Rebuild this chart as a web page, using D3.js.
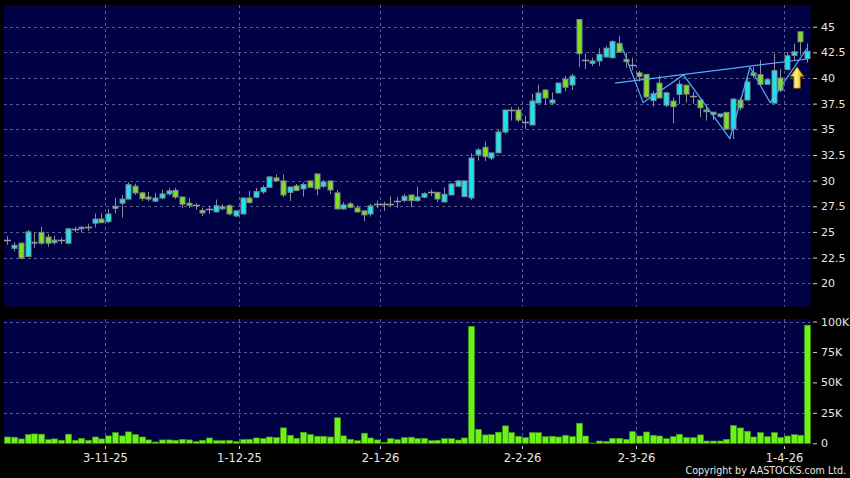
<!DOCTYPE html>
<html lang="en">
<head>
    <meta charset="UTF-8">
    <title>Candlestick chart</title>
    <script src="https://d3js.org/d3.v7.min.js"></script>
    <style>
        html, body {
            margin: 0;
            padding: 0;
            background: #000;
        }
        svg text {
            font-family: "DejaVu Sans", Verdana, sans-serif;
            fill: #e6e6e6;
        }
        .grid line {
            stroke: #5b5b8e;
            stroke-width: 1;
            stroke-dasharray: 3,3;
        }
        .axis path {
            display: none;
        }
        .axis line {
            stroke: #cfcfcf;
        }
    </style>
</head>
<body>
<div id="chart"></div>

<script>

    // daily candles, oldest first (open, high, low, close)
    var opens = [24.2, 23.4, 23.9, 22.6, 24.0, 24.95, 24.5, 23.95, 24.2, 23.9,
        25.3, 25.3, 25.45, 25.85, 26.25, 26.0, 27.3, 27.8, 28.2, 29.45,
        28.8, 28.4, 28.0, 28.3, 28.7, 29.05, 28.4, 27.8, 27.65, 27.1,
        27.25, 26.95, 27.25, 27.55, 26.55, 26.75, 28.3, 28.38, 28.9, 29.35,
        30.26, 29.97, 28.86, 29.48, 29.19, 29.97, 30.65, 29.45, 29.97, 28.8,
        27.24, 27.73, 27.34, 27.05, 26.75, 27.73, 27.73, 27.73, 27.99, 28.05,
        28.6, 28.05, 28.38, 28.9, 28.85, 27.92, 28.6, 29.45, 28.44, 28.31,
        32.5, 33.25, 32.2, 32.7, 34.74, 36.88, 36.88, 35.75, 35.42, 37.56,
        38.83, 37.56, 38.54, 39.9, 39.32, 45.7, 41.8, 41.43, 41.66, 42.05,
        41.98, 43.38, 41.82, 41.27, 40.5, 40.36, 37.8, 39.5, 37.35, 37.75,
        38.4, 39.3, 38.22, 37.85, 36.88, 36.67, 36.24, 36.65, 35.02, 37.85,
        37.85, 40.5, 40.33, 39.38, 37.55, 40.0, 40.82, 42.2, 44.5, 41.9];

    var highs = [24.6, 24.0, 24.0, 25.2, 25.0, 25.5, 24.8, 24.6, 24.45, 25.4,
        25.5, 25.6, 25.8, 26.8, 26.8, 27.25, 28.3, 28.6, 29.85, 29.7,
        28.9, 28.9, 28.8, 29.1, 29.3, 29.3, 28.45, 28.3, 27.8, 27.35,
        27.55, 28.15, 27.7, 27.7, 27.1, 28.35, 29.0, 29.3, 29.55, 30.4,
        30.6, 30.6, 29.38, 29.67, 29.84, 29.97, 30.65, 30.06, 29.97, 29.1,
        27.9, 27.9, 27.6, 27.05, 27.73, 28.05, 27.95, 28.45, 28.4, 28.7,
        28.6, 29.42, 28.86, 29.15, 28.9, 29.35, 29.77, 30.06, 29.97, 32.66,
        33.18, 33.8, 32.7, 34.97, 36.88, 37.15, 37.15, 36.33, 38.44, 39.35,
        38.93, 38.6, 39.51, 40.2, 40.4, 45.7, 42.37, 41.98, 42.9, 43.1,
        43.68, 44.1, 42.47, 41.98, 40.7, 40.36, 38.7, 40.26, 38.6, 38.1,
        39.77, 39.3, 38.63, 37.85, 37.32, 36.67, 36.5, 36.65, 37.97, 38.1,
        40.2, 41.08, 41.74, 39.84, 42.35, 40.9, 42.5, 43.37, 44.5, 43.37];

    var lows = [23.75, 23.1, 22.3, 22.6, 23.4, 23.75, 23.55, 23.75, 23.8, 23.8,
        25.0, 24.95, 25.1, 25.45, 25.85, 25.85, 26.8, 26.4, 28.2, 28.6,
        28.0, 28.0, 27.9, 28.2, 28.55, 28.2, 27.35, 27.35, 27.15, 26.55,
        26.75, 26.9, 27.1, 26.6, 26.45, 26.7, 27.73, 28.3, 28.7, 29.35,
        29.9, 28.38, 28.0, 28.97, 28.44, 29.35, 28.57, 29.3, 28.7, 27.17,
        27.17, 27.3, 26.85, 26.04, 26.5, 27.34, 27.05, 27.4, 27.3, 27.9,
        27.4, 27.9, 28.28, 28.5, 27.9, 27.85, 28.6, 29.38, 28.44, 28.1,
        31.95, 31.9, 32.0, 32.7, 34.55, 35.85, 35.7, 35.03, 35.42, 37.56,
        37.37, 37.37, 38.54, 38.7, 38.83, 41.07, 40.85, 41.17, 41.17, 41.98,
        41.9, 42.47, 41.0, 40.75, 39.65, 38.0, 37.2, 38.05, 37.16, 35.6,
        37.48, 37.6, 37.48, 36.18, 35.85, 35.9, 36.1, 35.0, 34.05, 36.85,
        37.85, 40.0, 39.38, 39.38, 37.55, 38.6, 40.82, 41.7, 42.2, 41.5];

    var closes = [24.2, 23.7, 22.45, 25.0, 23.9, 23.9, 23.9, 24.2, 24.2, 25.3,
        25.3, 25.45, 25.45, 26.25, 25.9, 26.75, 27.5, 28.2, 29.6, 28.8,
        28.25, 28.2, 28.3, 28.7, 29.0, 28.4, 27.7, 27.6, 27.65, 26.85,
        27.25, 27.55, 27.45, 26.75, 27.05, 28.3, 27.86, 28.93, 29.32, 30.36,
        29.97, 28.6, 29.38, 29.03, 29.61, 29.35, 29.19, 29.87, 29.09, 27.24,
        27.63, 27.4, 26.95, 26.66, 27.53, 27.73, 27.73, 27.73, 27.99, 28.47,
        28.05, 28.41, 28.73, 28.9, 28.21, 28.67, 29.67, 29.97, 29.97, 32.2,
        32.99, 32.34, 32.7, 34.74, 36.88, 36.88, 35.9, 35.75, 37.76, 38.54,
        38.05, 37.86, 39.51, 39.1, 40.19, 42.37, 41.8, 41.66, 42.3, 42.9,
        43.54, 42.53, 41.6, 41.27, 40.16, 38.15, 38.46, 38.05, 38.56, 37.2,
        39.4, 38.43, 38.22, 37.1, 36.72, 36.44, 36.5, 35.02, 37.95, 37.1,
        39.62, 40.26, 39.38, 39.84, 40.72, 38.8, 42.16, 42.55, 43.53, 42.6];

    // daily volume, in shares
    var volumes = [5200, 5000, 3600, 7200, 7700, 7500, 3000, 3600, 2500, 7500,
        2500, 4100, 2500, 5200, 3600, 6100, 8800, 6100, 9400, 7200,
        5200, 2800, 1100, 2800, 2800, 2500, 3300, 2800, 1400, 2500,
        4400, 2200, 2200, 2500, 1400, 3000, 3300, 4400, 3900, 5200,
        4700, 12700, 6600, 4100, 9100, 7200, 5800, 5800, 5200, 21000,
        6100, 3300, 2200, 8300, 4400, 2800, 800, 3900, 3000, 4700,
        5000, 3900, 4100, 2200, 2500, 3800, 3800, 2700, 4400, 96000,
        11500, 6900, 7100, 9100, 14300, 8800, 5800, 4700, 8800, 8800,
        5500, 5800, 5200, 6600, 5500, 16500, 6000, 300, 1900, 1600,
        4100, 4100, 3300, 9600, 6000, 9300, 6600, 6000, 3800, 5500,
        7400, 4700, 4700, 6900, 1900, 1900, 1900, 3300, 14800, 12600,
        9900, 5200, 8800, 5500, 8800, 4900, 6000, 7100, 6600, 97000];

    // first trading day of each month shown, as candle index
    var monthStarts = [15, 35, 56, 77, 94, 116];
    var monthLabels = ["3-11-25", "1-12-25", "2-1-26", "2-2-26", "2-3-26", "1-4-26"];

    var priceTicks = [20, 22.5, 25, 27.5, 30, 32.5, 35, 37.5, 40, 42.5, 45];
    var volumeTicks = [0, 25000, 50000, 75000, 100000];

    // drawn annotations: zigzag swing line and neckline (candle index, price)
    var zigzagIdx = [91.3, 94.6, 100.6, 107.5, 110.5, 113.5, 119];
    var zigzagPrice = [43.3, 37.6, 40.3, 34.1, 41.05, 37.6, 42.9];
    var necklineIdx = [90.4, 119];
    var necklinePrice = [39.5, 41.85];
    var arrowIdx = 117.5, arrowPrice = 41.1;

    var W = 850, H = 478;
    var plotLeft = 4, plotRight = 810.5;
    var price = {top: 5, bottom: 306.5};
    var vol = {top: 319, bottom: 443.5};

    var n = closes.length;
    var data = d3.range(n).map(function (i) {
        return {i: i, o: opens[i], h: highs[i], l: lows[i], c: closes[i], v: volumes[i]};
    });

    var svg = d3.select("#chart")
        .append("svg")
        .attr("width", W)
        .attr("height", H);

    var x = d3.scaleLinear()
        .domain([-0.5, n - 0.5])
        .range([plotLeft, plotRight]);

    var y = d3.scaleLinear()
        .domain([20, 45])
        .range([283.2, 26.7]);

    var yv = d3.scaleLinear()
        .domain([0, 100000])
        .range([443.3, 321.5]);

    // panel backgrounds
    svg.append("rect")
        .attr("x", plotLeft).attr("y", price.top)
        .attr("width", plotRight - plotLeft).attr("height", price.bottom - price.top)
        .attr("fill", "#000044");
    svg.append("rect")
        .attr("x", plotLeft).attr("y", vol.top)
        .attr("width", plotRight - plotLeft).attr("height", vol.bottom - vol.top)
        .attr("fill", "#000044");

    // grid
    var grid = svg.append("g").attr("class", "grid");
    grid.selectAll(".hp")
        .data(priceTicks)
        .enter().append("line")
        .attr("x1", plotLeft).attr("x2", plotRight)
        .attr("y1", function (d) { return Math.round(y(d)) + 0.5; })
        .attr("y2", function (d) { return Math.round(y(d)) + 0.5; });
    grid.selectAll(".hv")
        .data(volumeTicks.slice(1))
        .enter().append("line")
        .attr("x1", plotLeft).attr("x2", plotRight)
        .attr("y1", function (d) { return Math.round(yv(d)) + 0.5; })
        .attr("y2", function (d) { return Math.round(yv(d)) + 0.5; });
    monthStarts.forEach(function (m) {
        var gx = Math.round(x(m - 0.5)) + 0.5;
        grid.append("line")
            .attr("x1", gx).attr("x2", gx)
            .attr("y1", price.top).attr("y2", price.bottom);
        grid.append("line")
            .attr("x1", gx).attr("x2", gx)
            .attr("y1", vol.top).attr("y2", vol.bottom);
    });

    // candles
    var upColor = "#19e4f0", downColor = "#7ee01e", flatColor = "#9a9a9a";
    var bodyW = 5;

    var candle = svg.append("g")
        .selectAll("g")
        .data(data)
        .enter().append("g");

    candle.append("line")
        .attr("x1", function (d) { return Math.round(x(d.i)) + 0.5; })
        .attr("x2", function (d) { return Math.round(x(d.i)) + 0.5; })
        .attr("y1", function (d) { return y(d.h); })
        .attr("y2", function (d) { return y(d.l); })
        .attr("stroke", "#8c8c8c")
        .attr("stroke-width", 1);

    candle.filter(function (d) { return d.o !== d.c; })
        .append("rect")
        .attr("x", function (d) { return Math.round(x(d.i)) + 0.5 - bodyW / 2; })
        .attr("width", bodyW)
        .attr("y", function (d) { return y(Math.max(d.o, d.c)); })
        .attr("height", function (d) { return Math.max(1, Math.abs(y(d.o) - y(d.c))); })
        .attr("fill", function (d) { return d.c > d.o ? upColor : downColor; })
        .attr("stroke", "#7d8a8c")
        .attr("stroke-width", 1);

    candle.filter(function (d) { return d.o === d.c; })
        .append("line")
        .attr("x1", function (d) { return Math.round(x(d.i)) + 0.5 - 3.5; })
        .attr("x2", function (d) { return Math.round(x(d.i)) + 0.5 + 3.5; })
        .attr("y1", function (d) { return Math.round(y(d.c)) + 0.5; })
        .attr("y2", function (d) { return Math.round(y(d.c)) + 0.5; })
        .attr("stroke", flatColor)
        .attr("stroke-width", 1.5);

    // annotation lines
    var annot = svg.append("g")
        .attr("fill", "none")
        .attr("stroke", "#55aef0")
        .attr("stroke-width", 1.2);
    annot.append("path")
        .attr("d", d3.line()(zigzagIdx.map(function (v, k) { return [x(v), y(zigzagPrice[k])]; })));
    annot.append("path")
        .attr("d", d3.line()(necklineIdx.map(function (v, k) { return [x(v), y(necklinePrice[k])]; })));

    // up arrow
    var defs = svg.append("defs");
    var grad = defs.append("linearGradient")
        .attr("id", "gold")
        .attr("x1", "0%").attr("x2", "100%").attr("y1", "0%").attr("y2", "0%");
    grad.append("stop").attr("offset", "0%").attr("stop-color", "#f2b000");
    grad.append("stop").attr("offset", "45%").attr("stop-color", "#fff080");
    grad.append("stop").attr("offset", "100%").attr("stop-color", "#e08a00");

    var ax = x(arrowIdx), ay = y(arrowPrice);
    svg.append("path")
        .attr("d", "M" + ax + "," + ay +
            "l7,10 h-3.6 v11.6 h-6.8 v-11.6 h-3.6 z")
        .attr("fill", "url(#gold)")
        .attr("stroke", "#7a5200")
        .attr("stroke-width", 0.8);

    // volume bars
    svg.append("g")
        .selectAll("rect")
        .data(data)
        .enter().append("rect")
        .attr("x", function (d) { return Math.round(x(d.i)) + 0.5 - 3; })
        .attr("width", 6)
        .attr("y", function (d) { return yv(d.v); })
        .attr("height", function (d) { return yv(0) - yv(d.v); })
        .attr("fill", "#6cf218")
        .attr("stroke", "#3f9a10")
        .attr("stroke-width", 0.6);

    // right axes
    svg.append("g")
        .attr("class", "axis")
        .attr("transform", "translate(813,0)")
        .call(d3.axisRight(y).tickValues(priceTicks).tickSize(4).tickPadding(4)
            .tickFormat(function (d) { return d3.format("~g")(d); }))
        .selectAll("text").style("font-size", "11px").style("font-family", null);

    svg.append("g")
        .attr("class", "axis")
        .attr("transform", "translate(813,0)")
        .call(d3.axisRight(yv).tickValues(volumeTicks).tickSize(4).tickPadding(4)
            .tickFormat(function (d) { return d === 0 ? "0" : (d / 1000) + "K"; }))
        .selectAll("text").style("font-size", "11px").style("font-family", null);

    // month labels
    var xt = svg.append("g").attr("class", "axis");
    monthStarts.forEach(function (m, k) {
        var tx = Math.round(x(m - 0.5)) + 0.5;
        xt.append("line")
            .attr("x1", tx).attr("x2", tx)
            .attr("y1", 446).attr("y2", 449);
        xt.append("text")
            .attr("x", tx)
            .attr("y", 462)
            .attr("text-anchor", "middle")
            .style("font-size", "11.5px")
            .text(monthLabels[k]);
    });

    svg.append("text")
        .attr("x", 846)
        .attr("y", 474)
        .attr("text-anchor", "end")
        .style("font-size", "10.6px")
        .style("font-family", "'DejaVu Sans Condensed', 'DejaVu Sans', sans-serif")
        .text("Copyright by AASTOCKS.com Ltd.");

</script>
</body>
</html>
